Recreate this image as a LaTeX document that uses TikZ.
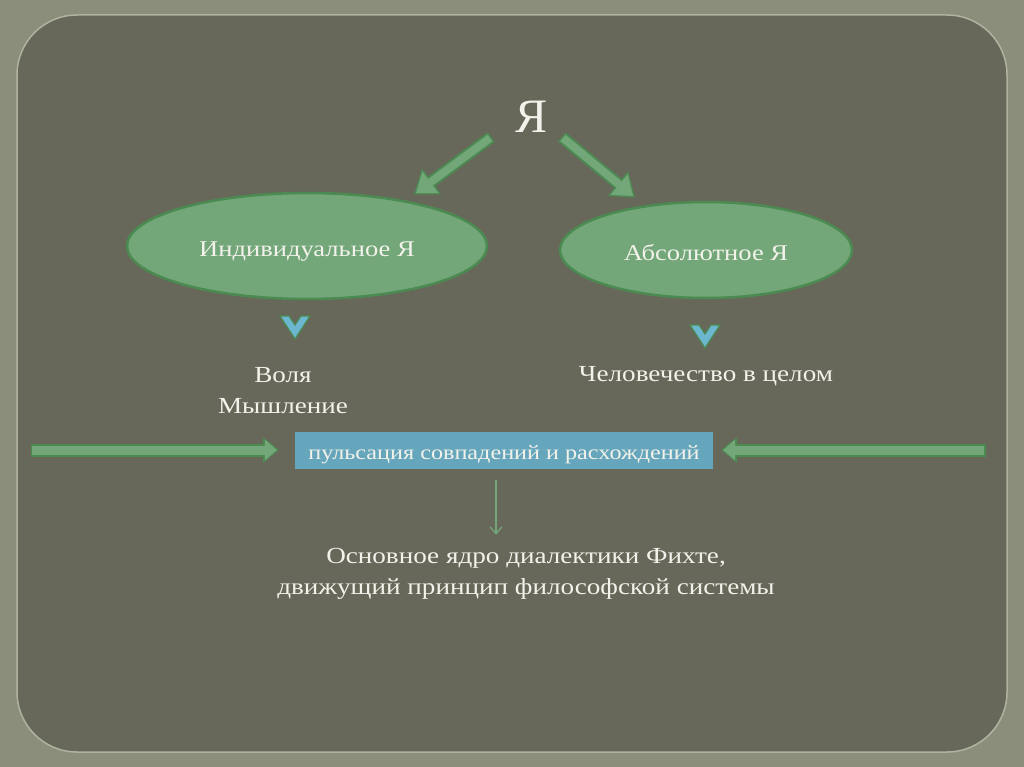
\documentclass[tikz,border=0pt]{standalone}
\usepackage{fontspec}
\setmainfont[FakeStretch=1.18]{Liberation Serif}
\newfontfamily\letterfont{Liberation Serif}
\usetikzlibrary{arrows.meta,shapes.geometric,positioning}
\definecolor{frame}{HTML}{8B8E7B}
\definecolor{board}{HTML}{67685A}
\definecolor{rim}{HTML}{B0B39F}
\definecolor{leaf}{HTML}{73A779}
\definecolor{leafdark}{HTML}{4B8A50}
\definecolor{sky}{HTML}{66A6BC}
\definecolor{skylight}{HTML}{6DB6D0}
\definecolor{paper}{HTML}{F2F2EA}
\tikzset{
  oval/.style={ellipse, draw=leafdark, line width=2.5pt, fill=leaf, text=paper, inner sep=0pt,
    text height=20pt, text depth=0pt, font=\fontsize{22.5}{26}\selectfont},
  plaintext/.style={text=paper, align=center, font=\fontsize{23}{31}\selectfont},
  pulsebox/.style={fill=sky, text=paper, minimum width=418pt, minimum height=37pt, inner sep=0pt,
    text height=18pt, text depth=0pt, font=\fontsize{20.5}{25}\selectfont},
  diagrim/.style={leafdark, line width=12pt, shorten <=-1.5pt, shorten >=-2.5pt,
    -{Triangle[length=22pt,width=32pt,line width=0pt]}},
  diagbody/.style={leaf, line width=8pt, -{Triangle[length=18pt,width=27pt,line width=0pt]}},
  flatrim/.style={leafdark, line width=13pt, shorten <=-1.5pt, shorten >=-2.5pt,
    -{Triangle[length=16pt,width=26pt,line width=0pt]}},
  flatbody/.style={leaf, line width=9pt, -{Triangle[length=12pt,width=21pt,line width=0pt]}},
  thinarrow/.style={leaf, line width=1.2pt, -{Straight Barb[length=7pt,width=12pt]}},
  chevron/.pic={\filldraw[draw=leafdark, fill=skylight, line width=1.2pt]
    (-15,-12) -- (-6,-12) -- (0,-3) -- (6,-12) -- (15,-12) -- (0,11) -- cycle;}
}
\begin{document}
\begin{tikzpicture}[x=1pt, y=-1pt]
  \useasboundingbox (0,0) rectangle (1024,767);
  \fill[frame] (0,0) rectangle (1024,767);
  \filldraw[fill=board, draw=rim, line width=1.5pt, rounded corners=60pt] (17,15) rectangle (1007,752);

  \node[text=paper, font=\letterfont\fontsize{48}{48}\selectfont] (ya) at (531,117) {Я};
  \node[oval, minimum width=360pt, minimum height=106pt] (indiv) at (307,246) {Индивидуальное Я};
  \node[oval, minimum width=292pt, minimum height=96pt] (absol) at (706,250) {Абсолютное Я};

  \coordinate (ya-l) at (490,138);
  \coordinate (ya-r) at (563,138);
  \coordinate (indiv-in) at (416,193);
  \coordinate (absol-in) at (633,196);
  \draw[diagrim] (ya-l) -- (indiv-in);
  \draw[diagbody] (ya-l) -- (indiv-in);
  \draw[diagrim] (ya-r) -- (absol-in);
  \draw[diagbody] (ya-r) -- (absol-in);

  \pic at (295,328) {chevron};
  \pic at (705,337) {chevron};

  \node[plaintext] (will) at (283,391) {Воля\\Мышление};
  \node[plaintext] (mankind) at (706,376) {Человечество в целом};

  \node[pulsebox] (pulse) at (504,450) {пульсация совпадений и расхождений};
  \coordinate (west-end) at (32,450);
  \coordinate (east-end) at (984,450);
  \draw[flatrim, shorten >=16pt] (west-end) -- (pulse.west);
  \draw[flatbody, shorten >=18pt] (west-end) -- (pulse.west);
  \draw[flatrim, shorten >=8pt] (east-end) -- (pulse.east);
  \draw[flatbody, shorten >=10pt] (east-end) -- (pulse.east);

  \node[plaintext] (core) at (526,574) {Основное ядро диалектики Фихте,\\движущий принцип философской системы};
  \draw[thinarrow] (pulse.south) ++(-8,11) -- ++(0,55);
\end{tikzpicture}
\end{document}
